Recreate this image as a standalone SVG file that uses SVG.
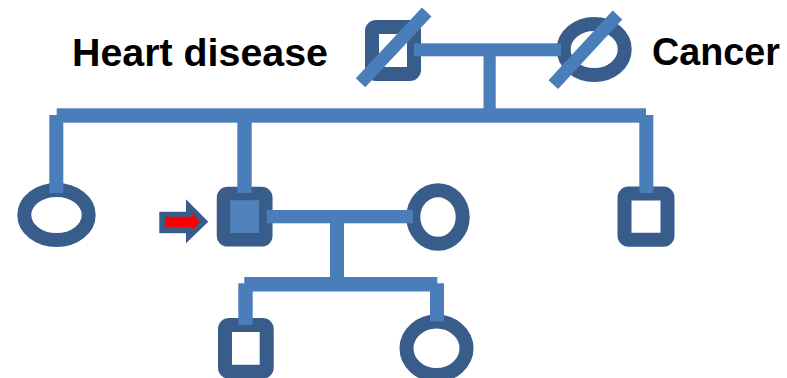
<svg xmlns="http://www.w3.org/2000/svg" width="787" height="378" viewBox="0 0 787 378">
<style>
.sh{fill:none;stroke:#385D8A;stroke-width:14}
.ln{fill:#4A7EBB}
.sl{stroke:#4A7EBB;stroke-width:13;stroke-linecap:butt}
.lbl{font-family:"Liberation Sans",Arial,sans-serif;font-weight:bold;font-size:38px;fill:#000}
</style>
<rect width="787" height="378" fill="#fff"/>
<g id="label-heart"><text class="lbl" x="72" y="66" textLength="256" lengthAdjust="spacingAndGlyphs">Heart disease</text></g>
<g id="label-cancer"><text class="lbl" x="652" y="65" textLength="128" lengthAdjust="spacingAndGlyphs">Cancer</text></g>
<g id="grandfather"><rect class="sh" x="372" y="27" width="42" height="47" rx="4"/></g>
<g id="grandmother"><ellipse class="sh" cx="594.2" cy="49.5" rx="30.5" ry="25.5"/></g>
<g id="aunt"><ellipse class="sh" cx="56.5" cy="215" rx="32.2" ry="25"/></g>
<g id="proband"><rect x="223.5" y="193.5" width="42.3" height="46.3" rx="4" fill="#4F81BD" stroke="#385D8A" stroke-width="13.5"/></g>
<g id="spouse"><ellipse class="sh" cx="438" cy="217" rx="24.7" ry="26.7" stroke-width="13.5"/></g>
<g id="uncle"><rect class="sh" x="624.5" y="193.5" width="43" height="46.3" rx="4" stroke-width="13.5"/></g>
<g id="son"><rect class="sh" x="225" y="325" width="41.7" height="46.7" rx="4" stroke-width="13.5"/></g>
<g id="daughter"><ellipse class="sh" cx="436.5" cy="348.3" rx="30" ry="26.7" stroke-width="13.5"/></g>
<g id="connectors">
<rect class="ln" x="414" y="43.3" width="147" height="13"/>
<rect class="ln" x="483.5" y="56" width="12.2" height="60"/>
<rect class="ln" x="56.7" y="108.3" width="589.3" height="14.4"/>
<rect class="ln" x="49.3" y="115" width="14" height="78"/>
<rect class="ln" x="237.3" y="115" width="14.4" height="78"/>
<rect class="ln" x="639.3" y="115" width="14" height="78"/>
<rect class="ln" x="266.7" y="210" width="146.3" height="13.3"/>
<rect class="ln" x="330" y="222" width="14" height="62"/>
<rect class="ln" x="244.3" y="277" width="193" height="14.5"/>
<rect class="ln" x="238.3" y="283.3" width="14.4" height="41.7"/>
<rect class="ln" x="430" y="283.3" width="14" height="38"/>
</g>
<g id="grandfather-deceased"><line class="sl" x1="360.5" y1="82.8" x2="426.7" y2="12"/></g>
<g id="grandmother-deceased"><line class="sl" x1="553.3" y1="84.7" x2="617.5" y2="15"/></g>
<g id="proband-arrow">
<polygon points="159.3,211.7 186,211.7 186,199.3 208.3,221.7 186,243.3 186,233.3 159.3,233.3" fill="#385D8A"/>
<polygon points="165,216.7 191.7,216.7 191.7,213.3 200,222 191.7,230 191.7,227.3 165,227.3" fill="#FF0000"/>
</g>
</svg>
